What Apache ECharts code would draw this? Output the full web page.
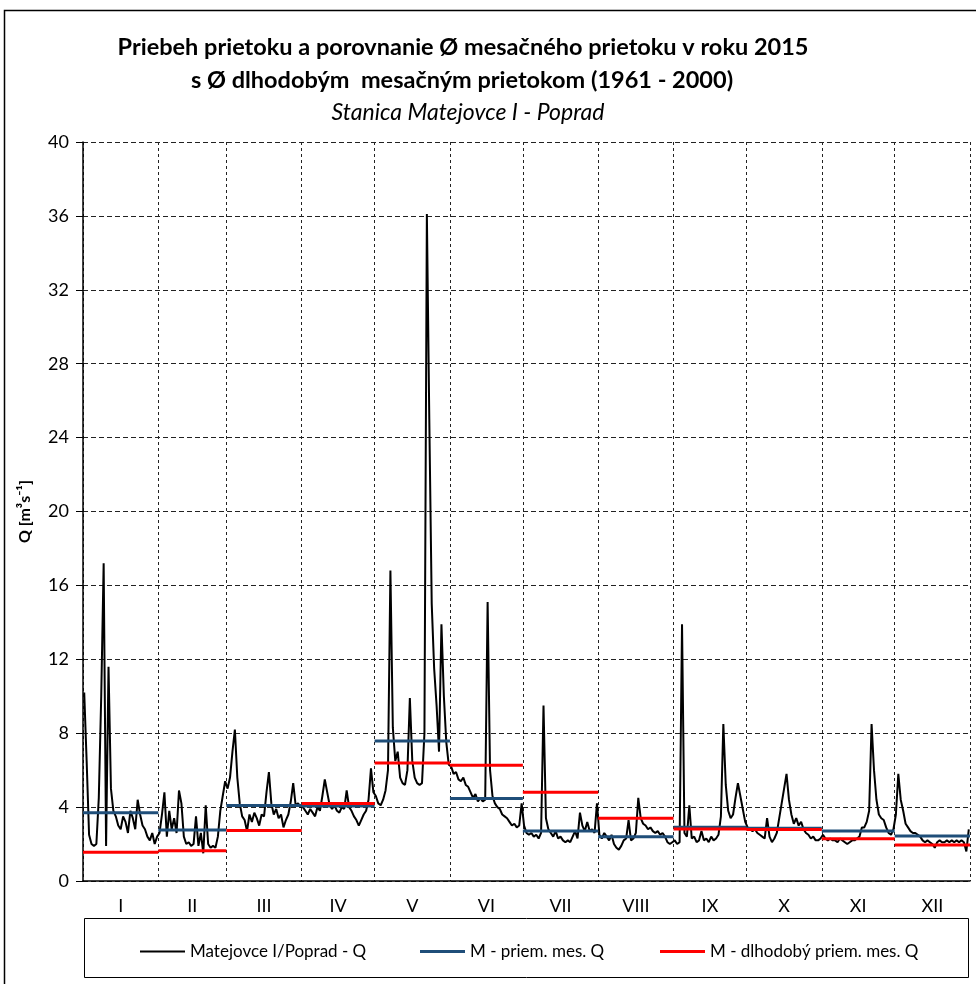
<!DOCTYPE html>
<html>
<head>
<meta charset="utf-8">
<script src="https://cdn.jsdelivr.net/npm/echarts@6/dist/echarts.min.js"></script>
<style>html,body{margin:0;padding:0;background:#fff}#c{width:976px;height:984px}</style>
</head>
<body>
<div id="c"></div>
<script>
// ---- DATA ----
var monthLabels = ['I','II','III','IV','V','VI','VII','VIII','IX','X','XI','XII'];
var monthDays = [31,28,31,30,31,30,31,31,30,31,30,31];
var monthMean2015 = [3.70,2.76,4.08,4.06,7.58,4.47,2.70,2.40,2.91,2.85,2.71,2.44];
var monthMeanLongTerm = [1.55,1.64,2.74,4.19,6.39,6.26,4.80,3.39,2.81,2.79,2.29,1.95];
var yTicks = [0,4,8,12,16,20,24,28,32,36,40];

var qJan = [10.2,6.5,2.5,2.0,1.9,2.0,4.5,10.0,17.2,1.9,11.6,5.0,3.8,3.5,3.0,2.8,3.5,3.2,2.6,3.8,3.4,2.8,4.4,3.6,3.0,2.8,2.4,2.2,2.6,2.0,2.4];
var qFeb = [2.6,3.6,4.8,2.4,3.8,2.8,3.4,2.6,4.9,4.2,2.4,2.0,2.1,1.9,2.0,3.5,1.9,2.6,1.5,4.1,2.0,1.8,1.9,1.8,2.4,3.8,4.6,5.4];
var qMar = [5.0,5.6,7.0,8.2,5.6,4.2,3.5,3.3,2.7,3.6,3.2,3.7,3.4,3.0,3.6,3.5,4.8,5.9,4.2,3.6,3.9,3.4,3.6,2.9,3.3,3.6,4.3,5.3,4.1,4.2,4.0];
var qApr = [4.0,3.8,3.6,3.9,3.7,3.5,4.0,3.8,4.6,5.5,4.8,4.1,3.9,4.1,3.8,3.7,4.0,3.9,4.9,4.0,3.8,3.5,3.3,3.0,3.3,3.6,3.8,4.4,6.1,4.8];
var qMay = [4.6,4.2,4.1,4.4,4.9,6.0,16.8,8.3,6.5,7.0,5.6,5.3,5.2,6.0,9.9,6.5,5.6,5.3,5.2,5.3,8.0,36.1,25.0,15.0,11.5,9.5,7.0,13.9,10.0,7.5,6.3];
var qJun = [6.2,5.8,5.9,5.5,5.4,5.6,5.2,5.1,4.8,4.5,4.7,4.3,4.5,4.3,4.4,15.1,6.0,4.6,4.2,4.0,3.9,3.6,3.5,3.4,3.2,3.0,3.1,2.9,3.0,4.2];
var qJul = [3.0,2.6,2.5,2.6,2.4,2.5,2.3,2.6,9.5,3.4,2.8,2.6,2.4,2.7,2.3,2.4,2.2,2.1,2.2,2.1,2.4,2.7,2.3,3.7,3.0,2.7,3.2,2.7,2.8,2.6,4.2];
var qAug = [2.5,2.3,2.6,2.4,2.2,2.5,2.0,1.8,1.7,1.9,2.2,2.3,3.3,2.2,2.3,2.6,4.5,3.4,3.1,3.0,2.8,2.9,2.7,2.6,2.7,2.5,2.6,2.4,2.1,2.0,2.1];
var qSep = [2.2,2.0,2.1,13.9,2.6,2.4,4.1,2.3,2.4,2.1,2.2,2.7,2.2,2.3,2.1,2.4,2.2,2.3,2.5,3.5,8.5,5.2,3.8,3.4,3.6,4.5,5.3,4.6,3.9,3.2];
var qOct = [2.9,2.8,2.7,2.8,2.6,2.5,2.4,2.3,3.4,2.4,2.1,2.3,2.6,3.4,4.2,5.0,5.8,4.4,3.6,3.1,3.4,3.0,3.2,2.8,2.6,2.5,2.3,2.4,2.2,2.2,2.3];
var qNov = [2.5,2.3,2.2,2.3,2.2,2.2,2.1,2.3,2.2,2.1,2.0,2.1,2.2,2.2,2.3,2.4,2.9,2.9,3.2,3.8,8.5,6.0,4.4,3.6,3.4,3.3,2.9,2.6,2.5,2.8];
var qDec = [3.6,5.8,4.4,3.8,3.1,2.9,2.7,2.6,2.6,2.5,2.4,2.2,2.1,2.2,2.1,2.0,1.8,2.1,2.2,2.1,2.1,2.2,2.1,2.2,2.1,2.2,2.1,2.2,2.1,1.6,2.8];
var dailyByMonth = [qJan,qFeb,qMar,qApr,qMay,qJun,qJul,qAug,qSep,qOct,qNov,qDec];

var seriesNames = ['Matejovce I/Poprad - Q','M - priem. mes. Q','M - dlhodobý priem. mes. Q'];

// ---- BUILD ----
var monthStart = [0];
for (var i = 0; i < 12; i++) monthStart.push(monthStart[i] + monthDays[i]);
var monthCenter = monthLabels.map(function(_, i){ return (monthStart[i] + monthStart[i+1]) / 2; });

var daily = [];
dailyByMonth.forEach(function(arr, m){
  arr.forEach(function(v, d){ daily.push([monthStart[m] + d + 0.5, v]); });
});
function steps(vals){
  var out = [];
  vals.forEach(function(v, m){
    out.push([monthStart[m], v]); out.push([monthStart[m+1], v]); out.push([monthStart[m+1], null]);
  });
  return out;
}

var FONT = 'Lato, "Open Sans", sans-serif';
var chart = echarts.init(document.getElementById('c'), null, {renderer:'canvas'});
chart.setOption({
  animation: false,
  backgroundColor: '#fff',
  textStyle: {fontFamily: FONT},
  graphic: [
    {type:'rect', shape:{x:4.5, y:10.5, width:990, height:990}, style:{fill:'none', stroke:'#000', lineWidth:1.5}, silent:true},
    {type:'text', x:463, y:47, style:{text:'Priebeh prietoku a porovnanie Ø mesačného prietoku v roku 2015', textAlign:'center', textVerticalAlign:'middle', font:'bold 23.5px '+FONT, fill:'#000'}},
    {type:'text', x:462, y:80, style:{text:'s Ø dlhodobým  mesačným prietokom (1961 - 2000)', textAlign:'center', textVerticalAlign:'middle', font:'bold 23.5px '+FONT, fill:'#000'}},
    {type:'text', x:468, y:113, style:{text:'Stanica Matejovce I - Poprad', textAlign:'center', textVerticalAlign:'middle', font:'italic 23px '+FONT, fill:'#000'}},
    {type:'rect', shape:{x:84.5, y:918.5, width:884, height:59}, style:{fill:'none', stroke:'#000', lineWidth:1}, silent:true}
  ],
  legend: [
    {data:[{name:seriesNames[0], icon:'rect'}], left:135, top:938, itemWidth:45, itemHeight:2, textStyle:{fontSize:17, color:'#000', fontFamily:FONT}},
    {data:[{name:seriesNames[1], icon:'rect'}], left:415, top:938, itemWidth:45, itemHeight:3, textStyle:{fontSize:17, color:'#000', fontFamily:FONT}},
    {data:[{name:seriesNames[2], icon:'rect'}], left:655, top:938, itemWidth:45, itemHeight:3, textStyle:{fontSize:17, color:'#000', fontFamily:FONT}}
  ],
  grid: {left:83, top:142, width:887, height:739, containLabel:false},
  xAxis: {
    type:'value', min:0, max:365,
    axisLine:{show:true, lineStyle:{color:'#000', width:1.5}},
    axisTick:{show:false, customValues: monthStart},
    splitLine:{show:true, lineStyle:{color:'#222', width:1, type:[3,3]}},
    axisLabel:{customValues: monthCenter, margin:16, fontSize:18, color:'#000', fontFamily:FONT,
      formatter:function(v){ var i = monthCenter.indexOf(v); return i >= 0 ? monthLabels[i] : ''; }}
  },
  yAxis: {
    type:'value', min:0, max:40, interval:4,
    name:'Q [m³s⁻¹]', nameLocation:'middle', nameGap:50, nameRotate:90,
    nameTextStyle:{fontSize:16, fontWeight:'bold', color:'#000', fontFamily:FONT},
    axisLine:{show:true, lineStyle:{color:'#000', width:1.5}},
    axisTick:{show:true, inside:false, length:7, lineStyle:{color:'#000'}},
    axisLabel:{fontSize:18, color:'#000', margin:14, fontFamily:FONT,
      formatter:function(v){ return yTicks.indexOf(v) >= 0 ? String(v) : ''; }},
    splitLine:{show:true, lineStyle:{color:'#222', width:1, type:[5,3]}}
  },
  series: [
    {name:seriesNames[0], type:'line', data:daily, showSymbol:false, symbol:'none', color:'#000', lineStyle:{color:'#000', width:2}, z:2},
    {name:seriesNames[1], type:'line', data:steps(monthMean2015), showSymbol:false, symbol:'none', color:'#1F4E79', lineStyle:{color:'#1F4E79', width:3}, connectNulls:false, z:3},
    {name:seriesNames[2], type:'line', data:steps(monthMeanLongTerm), showSymbol:false, symbol:'none', color:'#FF0000', lineStyle:{color:'#FF0000', width:3}, connectNulls:false, z:4}
  ]
});
</script>
</body>
</html>
